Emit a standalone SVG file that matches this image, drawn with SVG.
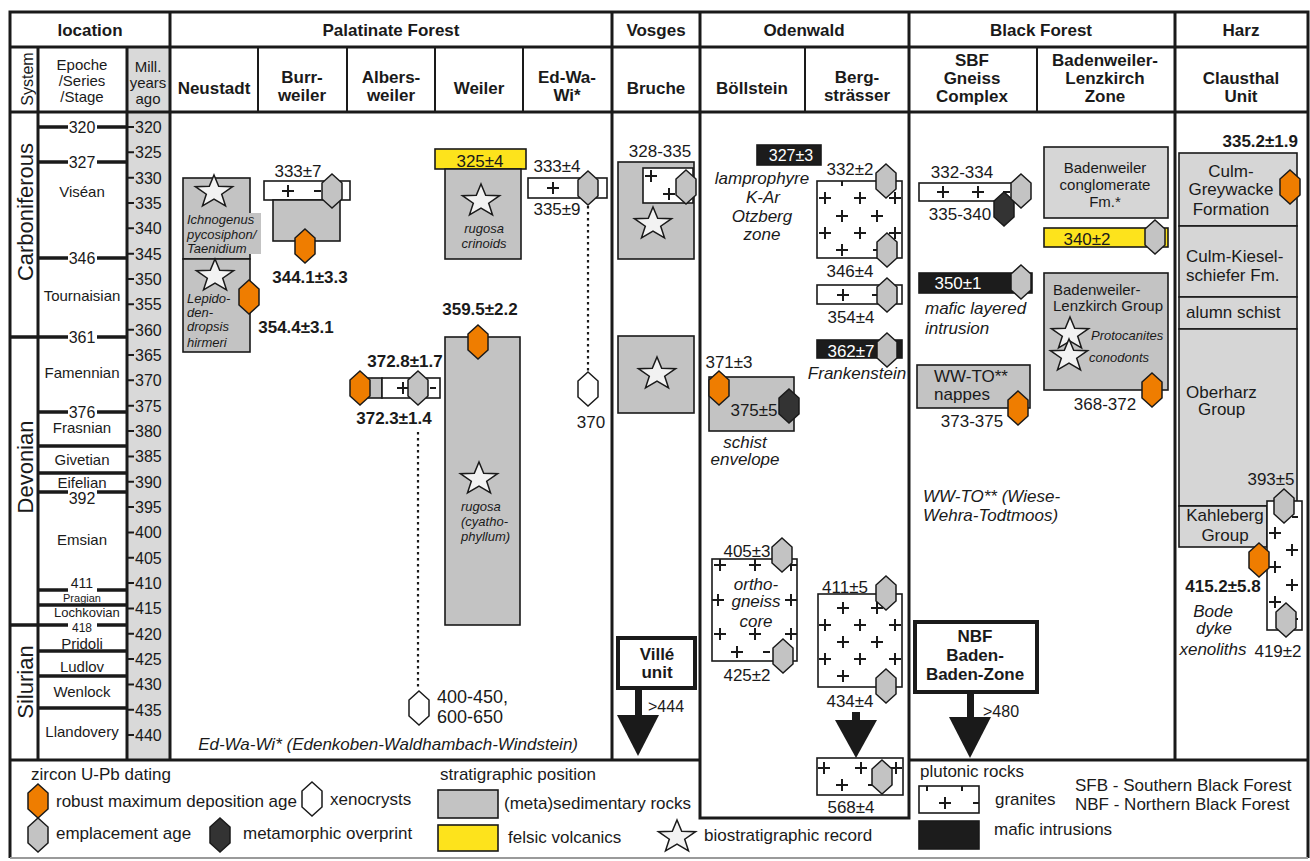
<svg xmlns="http://www.w3.org/2000/svg" width="1310" height="861" viewBox="0 0 1310 861">
<style>
text{font-family:"Liberation Sans",Arial,Helvetica,sans-serif;fill:#1a1a1a;font-size:17px}
.c{text-anchor:middle}
.e{text-anchor:end}
.bd{font-weight:bold}
.it{font-style:italic}
.f11{font-size:11px}
.f12{font-size:12px}
.f13{font-size:13px}
.f14{font-size:14px}
.f15{font-size:15px}
.f16{font-size:16px}
.f18{font-size:18px}
.f22{font-size:22px}
.wt{fill:#fff}
.ln{fill:none;stroke:#1a1a1a;stroke-width:3}
.ln2{fill:none;stroke:#1a1a1a;stroke-width:2}
.bx{stroke:#1a1a1a;stroke-width:1.6}
.sed{fill:#c3c3c3}
.lsed{fill:#d6d6d6}
.gr{fill:#fff}
.maf{fill:#1c1c1c}
.yel{fill:#fde31c}
.ho{fill:#ef7d00}
.hg{fill:#c3c3c3}
.hd{fill:#333}
.hw{fill:#fff}
.tk{fill:none;stroke:#1a1a1a;stroke-width:2}
.dot{fill:none;stroke:#1a1a1a;stroke-width:2.2;stroke-dasharray:2.5 3.5}
.ar{fill:#1a1a1a}
.ub{fill:#fff;stroke:#1a1a1a;stroke-width:4}
</style>
<defs>
<polygon id="hx" points="0,-17 10,-8 10,8 0,17 -10,8 -10,-8" stroke="#1a1a1a" stroke-width="1.5"/>
<polygon id="sr" points="0,-17 4.7,-5.7 18.6,-5.3 7.7,2.2 11.5,13.8 0,7 -11.5,13.8 -7.7,2.2 -18.6,-5.3 -4.7,-5.7" stroke="#1a1a1a" stroke-width="1.5" fill="#f2f2f2"/>
<path id="pl" d="M-6,0H6M0,-6V6" stroke="#1a1a1a" stroke-width="2" fill="none"/>
</defs>
<rect width="1310" height="861" fill="#fff"/>

<g id="location">
<rect x="128" y="48" width="41" height="711" fill="#d9d9d9"/>
<text class="c f16" transform="translate(33,79) rotate(-90)">System</text>
<text class="c f15" x="82" y="70">Epoche</text>
<text class="c f15" x="82" y="86">/Series</text>
<text class="c f15" x="82" y="102">/Stage</text>
<text class="c f15" x="148" y="72">Mill.</text>
<text class="c f15" x="148" y="88">years</text>
<text class="c f15" x="148" y="104">ago</text>
<text class="c f22" transform="translate(33,212) rotate(-90)">Carboniferous</text>
<text class="c f22" transform="translate(33,467) rotate(-90)">Devonian</text>
<text class="c f22" transform="translate(33,682) rotate(-90)">Silurian</text>
<path fill="none" stroke="#1a1a1a" stroke-width="3.5" d="M38,127H68M97,127H127M38,162H68M97,162H127M38,258H68M97,258H127M10,337H68M97,337H127M38,412H68M97,412H127M38,446H127M38,473H127M38,492H68M97,492H127M38,590H68M97,590H127M38,605H127M10,625H68M97,625H127M38,651H127M38,676H127M38,708H127"/>
<text class="c f16" x="82" y="133">320</text>
<text class="c f16" x="82" y="168">327</text>
<text class="c f16" x="82" y="264">346</text>
<text class="c f16" x="82" y="343">361</text>
<text class="c f16" x="82" y="418">376</text>
<text class="c f16" x="82" y="504">392</text>
<text class="c f14" x="82" y="588">411</text>
<text class="c f12" x="82" y="632">418</text>
<text class="c f15" x="82" y="197">Viséan</text>
<text class="c f15" x="82" y="301">Tournaisian</text>
<text class="c f15" x="82" y="378">Famennian</text>
<text class="c f15" x="82" y="433">Frasnian</text>
<text class="c f15" x="82" y="465">Givetian</text>
<text class="c f15" x="82" y="488">Eifelian</text>
<text class="c f15" x="82" y="545">Emsian</text>
<text class="c f11" x="82" y="602">Pragian</text>
<text class="f13" x="54" y="617">Lochkovian</text>
<text class="c f15" x="82" y="649">Pridoli</text>
<text class="c f15" x="82" y="672">Ludlov</text>
<text class="c f15" x="82" y="697">Wenlock</text>
<text class="c f15" x="82" y="737">Llandovery</text>
<path class="tk" d="M128,127h6M128,152.3h6M128,177.7h6M128,203h6M128,228.3h6M128,253.7h6M128,279h6M128,304.3h6M128,329.7h6M128,355h6M128,380.3h6M128,405.7h6M128,431h6M128,456.4h6M128,481.7h6M128,507h6M128,532.4h6M128,557.7h6M128,583h6M128,608.4h6M128,633.7h6M128,659h6M128,684.4h6M128,709.7h6M128,735h6"/>
<text class="f16" x="135" y="133">320</text>
<text class="f16" x="135" y="158">325</text>
<text class="f16" x="135" y="184">330</text>
<text class="f16" x="135" y="209">335</text>
<text class="f16" x="135" y="234">340</text>
<text class="f16" x="135" y="260">345</text>
<text class="f16" x="135" y="285">350</text>
<text class="f16" x="135" y="310">355</text>
<text class="f16" x="135" y="336">360</text>
<text class="f16" x="135" y="361">365</text>
<text class="f16" x="135" y="386">370</text>
<text class="f16" x="135" y="412">375</text>
<text class="f16" x="135" y="437">380</text>
<text class="f16" x="135" y="462">385</text>
<text class="f16" x="135" y="488">390</text>
<text class="f16" x="135" y="513">395</text>
<text class="f16" x="135" y="538">400</text>
<text class="f16" x="135" y="564">405</text>
<text class="f16" x="135" y="589">410</text>
<text class="f16" x="135" y="614">415</text>
<text class="f16" x="135" y="640">420</text>
<text class="f16" x="135" y="665">425</text>
<text class="f16" x="135" y="690">430</text>
<text class="f16" x="135" y="716">435</text>
<text class="f16" x="135" y="741">440</text>
</g>

<g id="frame">
<path class="ln" d="M10,858V12H1308V858M10,47H1308M10,112H1308M10,760H700M909,760H1308M170,12V760M612,12V760M700,12V818H909V12M1175,12V760M38,47V760M127,47V760"/>
<path class="ln2" d="M258,47V112M347,47V112M435,47V112M523,47V112M805,47V112M1037,47V112"/>
<path fill="none" stroke="#9a9a9a" stroke-width="2" d="M10,858H1308"/>
</g>

<g id="headers">
<text class="c bd" x="90" y="36">location</text>
<text class="c bd" x="391" y="36">Palatinate Forest</text>
<text class="c bd" x="656" y="36">Vosges</text>
<text class="c bd" x="804" y="36">Odenwald</text>
<text class="c bd" x="1041" y="36">Black Forest</text>
<text class="c bd" x="1241" y="36">Harz</text>
<text class="c bd" x="214" y="94">Neustadt</text>
<text class="c bd" x="302" y="83">Burr-</text>
<text class="c bd" x="302" y="101">weiler</text>
<text class="c bd" x="391" y="83">Albers-</text>
<text class="c bd" x="391" y="101">weiler</text>
<text class="c bd" x="479" y="94">Weiler</text>
<text class="c bd" x="567" y="83">Ed-Wa-</text>
<text class="c bd" x="567" y="101">Wi*</text>
<text class="c bd" x="656" y="94">Bruche</text>
<text class="c bd" x="752" y="94">Böllstein</text>
<text class="c bd" x="857" y="83">Berg-</text>
<text class="c bd" x="857" y="101">strässer</text>
<text class="c bd" x="972" y="66">SBF</text>
<text class="c bd" x="972" y="84">Gneiss</text>
<text class="c bd" x="972" y="102">Complex</text>
<text class="c bd" x="1105" y="66">Badenweiler-</text>
<text class="c bd" x="1105" y="84">Lenzkirch</text>
<text class="c bd" x="1105" y="102">Zone</text>
<text class="c bd" x="1241" y="84">Clausthal</text>
<text class="c bd" x="1241" y="102">Unit</text>
</g>

<g id="connectors">
<path class="dot" d="M418,432V690"/>
<path class="dot" d="M588,206V371"/>
<rect class="ar" x="635" y="688" width="7" height="28"/>
<polygon class="ar" points="617,715 659,715 638,756"/>
<rect class="ar" x="852" y="712" width="8" height="9"/>
<polygon class="ar" points="835,720 877,720 856,758"/>
<rect class="ar" x="967" y="692" width="7" height="26"/>
<polygon class="ar" points="949,717 991,717 970,758"/>
</g>

<g id="neustadt">
<rect class="bx sed" x="183" y="178" width="67" height="81"/>
<rect class="bx sed" x="183" y="259" width="67" height="93"/>
<rect class="sed" x="184" y="213" width="77" height="41"/>
<use href="#sr" x="214" y="192"/>
<use href="#sr" x="215" y="276"/>
<text class="it f13" x="187" y="224">Ichnogenus</text>
<text class="it f13" x="187" y="239">pycosiphon/</text>
<text class="it f13" x="187" y="253">Taenidium</text>
<text class="it f13" x="187" y="303">Lepido-</text>
<text class="it f13" x="187" y="317">den-</text>
<text class="it f13" x="187" y="331">dropsis</text>
<text class="it f13" x="187" y="347">hirmeri</text>
<use href="#hx" class="ho" x="249" y="297"/>
<text class="c bd" x="296" y="333">354.4±3.1</text>
</g>

<g id="burrweiler">
<text class="c" x="298" y="177">333±7</text>
<rect class="bx gr" x="264" y="181" width="86" height="19"/>
<use href="#pl" x="288" y="191"/>
<path class="tk" d="M314,191h7"/>
<rect class="bx sed" x="273" y="200" width="67" height="41"/>
<use href="#hx" class="hg" x="332" y="191"/>
<use href="#hx" class="ho" x="305" y="246"/>
<text class="c bd" x="310" y="283">344.1±3.3</text>
</g>

<g id="albersweiler">
<text class="c bd" x="405" y="367">372.8±1.7</text>
<rect class="bx sed" x="366" y="378" width="16" height="20"/>
<rect class="bx gr" x="382" y="378" width="58" height="20"/>
<use href="#pl" x="403" y="388"/>
<path class="tk" d="M430,388h6"/>
<use href="#hx" class="ho" x="360" y="388"/>
<use href="#hx" class="hg" x="418" y="388"/>
<text class="c bd" x="394" y="424">372.3±1.4</text>
<use href="#hx" class="hw" x="419" y="708"/>
<text class="f18" x="437" y="703">400-450,</text>
<text class="f18" x="437" y="723">600-650</text>
<text class="it e" x="578" y="750">Ed-Wa-Wi* (Edenkoben-Waldhambach-Windstein)</text>
</g>

<g id="weiler">
<rect class="bx yel" x="435" y="149" width="91" height="20"/>
<text class="c" x="480" y="167">325±4</text>
<rect class="bx sed" x="445" y="169" width="76" height="90"/>
<use href="#sr" x="481" y="201"/>
<text class="c it f13" x="484" y="233">rugosa</text>
<text class="c it f13" x="484" y="248">crinoids</text>
<rect class="bx sed" x="445" y="337" width="75" height="288"/>
<use href="#sr" x="479" y="479"/>
<text class="it f13" x="461" y="511">rugosa</text>
<text class="it f13" x="461" y="526">(cyatho-</text>
<text class="it f13" x="461" y="541">phyllum)</text>
<use href="#hx" class="ho" x="478" y="342"/>
<text class="c bd" x="480" y="315">359.5±2.2</text>
</g>

<g id="edwawi">
<text class="c" x="557" y="172">333±4</text>
<rect class="bx gr" x="528" y="178" width="79" height="20"/>
<use href="#pl" x="553" y="188"/>
<use href="#hx" class="hg" x="588" y="188"/>
<text class="c" x="557" y="215">335±9</text>
<use href="#hx" class="hw" x="588" y="389"/>
<text class="c" x="591" y="428">370</text>
</g>

<g id="bruche">
<text class="c" x="660" y="157">328-335</text>
<rect class="bx sed" x="618" y="162" width="76" height="97"/>
<rect class="bx gr" x="643" y="168" width="50" height="35"/>
<use href="#pl" x="651" y="176"/>
<use href="#pl" x="669" y="194"/>
<use href="#hx" class="hg" x="686" y="187"/>
<use href="#sr" x="653" y="224"/>
<rect class="bx sed" x="618" y="336" width="76" height="77"/>
<use href="#sr" x="657" y="374"/>
</g>

<g id="ville">
<rect class="ub" x="618" y="638" width="77" height="50"/>
<text class="c bd" x="657" y="660">Villé</text>
<text class="c bd" x="657" y="678">unit</text>
<text class="f16" x="648" y="712">&gt;444</text>
</g>

<g id="boellstein">
<rect class="bx maf" x="757" y="145" width="64" height="20"/>
<text class="c f16 wt" x="791" y="161">327±3</text>
<text class="c it" x="762" y="184">lamprophyre</text>
<text class="c it" x="763" y="203">K-Ar</text>
<text class="c it" x="762" y="222">Otzberg</text>
<text class="c it" x="762" y="240">zone</text>
<text class="c" x="729" y="368">371±3</text>
<rect class="bx sed" x="709" y="377" width="85" height="54"/>
<use href="#hx" class="ho" x="719" y="388"/>
<use href="#hx" class="hd" x="789" y="406"/>
<text class="c" x="754" y="416">375±5</text>
<text class="c it" x="745" y="448">schist</text>
<text class="c it" x="745" y="465">envelope</text>
<rect class="bx gr" x="712" y="559" width="85" height="102"/>
<use href="#pl" x="720" y="565"/><use href="#pl" x="755" y="565"/><use href="#pl" x="791" y="565"/>
<use href="#pl" x="718" y="600"/><use href="#pl" x="791" y="600"/>
<use href="#pl" x="720" y="634"/><use href="#pl" x="755" y="634"/><use href="#pl" x="791" y="634"/>
<use href="#pl" x="737" y="652"/>
<path class="tk" d="M763,652h7"/>
<text class="c" x="747" y="557">405±3</text>
<use href="#hx" class="hg" x="782" y="555"/>
<use href="#hx" class="hg" x="783" y="656"/>
<text class="c it" x="756" y="590">ortho-</text>
<text class="c it" x="756" y="607">gneiss</text>
<text class="c it" x="756" y="627">core</text>
<text class="c" x="747" y="681">425±2</text>
</g>

<g id="bergstrasser">
<text class="c" x="850" y="175">332±2</text>
<rect class="bx gr" x="817" y="181" width="85" height="77"/>
<path class="tk" d="M842,181v5M877,181v5M873,250h5"/>
<use href="#pl" x="825" y="198"/><use href="#pl" x="860" y="198"/><use href="#pl" x="895" y="198"/>
<use href="#pl" x="842" y="216"/><use href="#pl" x="877" y="216"/>
<use href="#pl" x="825" y="233"/><use href="#pl" x="860" y="233"/><use href="#pl" x="895" y="233"/>
<use href="#pl" x="842" y="250"/>
<use href="#hx" class="hg" x="886" y="181"/>
<use href="#hx" class="hg" x="887" y="250"/>
<text class="c" x="850" y="277">346±4</text>
<rect class="bx gr" x="817" y="285" width="85" height="19"/>
<use href="#pl" x="843" y="295"/>
<path class="tk" d="M872,295h6"/>
<use href="#hx" class="hg" x="887" y="295"/>
<text class="c" x="851" y="323">354±4</text>
<rect class="bx maf" x="817" y="340" width="85" height="18"/>
<text class="c wt" x="851" y="357">362±7</text>
<use href="#hx" class="hg" x="887" y="350"/>
<text class="c it" x="857" y="379">Frankenstein</text>
<text class="c" x="845" y="593">411±5</text>
<rect class="bx gr" x="818" y="594" width="84" height="93"/>
<use href="#pl" x="843" y="608"/><use href="#pl" x="877" y="608"/>
<use href="#pl" x="825" y="625"/><use href="#pl" x="860" y="625"/><use href="#pl" x="895" y="625"/>
<use href="#pl" x="843" y="642"/><use href="#pl" x="877" y="642"/>
<use href="#pl" x="825" y="659"/><use href="#pl" x="860" y="659"/><use href="#pl" x="895" y="659"/>
<use href="#pl" x="843" y="676"/>
<use href="#hx" class="hg" x="886" y="593"/>
<use href="#hx" class="hg" x="886" y="686"/>
<text class="c" x="850" y="707">434±4</text>
</g>

<g id="odenwald-basement">
<rect class="bx gr" x="817" y="758" width="86" height="37"/>
<use href="#pl" x="824" y="768"/><use href="#pl" x="861" y="768"/><use href="#pl" x="896" y="768"/>
<use href="#pl" x="842" y="785"/>
<path class="tk" d="M868,785h6"/>
<use href="#hx" class="hg" x="882" y="777"/>
<text class="c" x="851" y="813">568±4</text>
</g>

<g id="sbf">
<text class="c" x="962" y="178">332-334</text>
<rect class="bx gr" x="919" y="183" width="94" height="18"/>
<use href="#pl" x="943" y="192"/><use href="#pl" x="978" y="192"/>
<path class="tk" d="M1003,192h7"/>
<use href="#hx" class="hd" x="1004" y="209"/>
<use href="#hx" class="hg" x="1021" y="191"/>
<text class="c" x="960" y="220">335-340</text>
<rect class="bx maf" x="919" y="273" width="113" height="20"/>
<text class="c wt" x="958" y="289">350±1</text>
<use href="#hx" class="hg" x="1021" y="282"/>
<text class="it" x="925" y="314">mafic layered</text>
<text class="it" x="925" y="334">intrusion</text>
<rect class="bx sed" x="917" y="365" width="113" height="43"/>
<text class="c" x="971" y="382">WW-TO**</text>
<text class="c" x="962" y="400">nappes</text>
<use href="#hx" class="ho" x="1018" y="408"/>
<text class="c" x="972" y="427">373-375</text>
<text class="it" x="923" y="502">WW-TO** (Wiese-</text>
<text class="it" x="923" y="521">Wehra-Todtmoos)</text>
</g>

<g id="nbf">
<rect class="ub" x="915" y="622" width="122" height="70"/>
<text class="c bd" x="975" y="642">NBF</text>
<text class="c bd" x="975" y="661">Baden-</text>
<text class="c bd" x="975" y="680">Baden-Zone</text>
<text class="f16" x="983" y="717">&gt;480</text>
</g>

<g id="badenweiler">
<rect class="bx lsed" x="1044" y="147" width="124" height="71"/>
<text class="c f15" x="1105" y="173">Badenweiler</text>
<text class="c f15" x="1105" y="190">conglomerate</text>
<text class="c f15" x="1105" y="207">Fm.*</text>
<rect class="bx yel" x="1044" y="228" width="124" height="19"/>
<text class="c" x="1087" y="245">340±2</text>
<use href="#hx" class="hg" x="1155" y="237"/>
<rect class="bx sed" x="1044" y="273" width="124" height="117"/>
<text class="f15" x="1053" y="295">Badenweiler-</text>
<text class="f15" x="1053" y="311">Lenzkirch Group</text>
<use href="#sr" x="1070" y="334"/>
<use href="#sr" x="1069" y="356"/>
<text class="it f13" x="1091" y="340">Protocanites</text>
<text class="it f13" x="1089" y="362">conodonts</text>
<use href="#hx" class="ho" x="1152" y="390"/>
<text class="c" x="1105" y="410">368-372</text>
</g>

<g id="harz">
<text class="e bd" x="1298" y="147">335.2±1.9</text>
<rect class="bx lsed" x="1179" y="153" width="118" height="73"/>
<rect class="bx lsed" x="1179" y="226" width="118" height="71"/>
<rect class="bx lsed" x="1179" y="297" width="118" height="32"/>
<rect class="bx lsed" x="1179" y="329" width="118" height="177"/>
<rect class="bx lsed" x="1179" y="506" width="88" height="41"/>
<text class="c" x="1231" y="177">Culm-</text>
<text class="c" x="1231" y="195">Greywacke</text>
<text class="c" x="1231" y="215">Formation</text>
<use href="#hx" class="ho" x="1290" y="187"/>
<text x="1186" y="262">Culm-Kiesel-</text>
<text x="1186" y="281">schiefer Fm.</text>
<text x="1186" y="318">alumn schist</text>
<text x="1186" y="398">Oberharz</text>
<text x="1198" y="415">Group</text>
<text class="c" x="1271" y="485">393±5</text>
<text class="c" x="1225" y="521">Kahleberg</text>
<text class="c" x="1225" y="541">Group</text>
<rect class="bx gr" x="1267" y="501" width="35" height="129"/>
<use href="#pl" x="1275" y="533"/><use href="#pl" x="1292" y="550"/>
<use href="#pl" x="1275" y="567"/><use href="#pl" x="1292" y="585"/>
<use href="#pl" x="1275" y="602"/>
<path class="tk" d="M1292,517h6M1292,619h6"/>
<use href="#hx" class="hg" x="1284" y="506"/>
<use href="#hx" class="ho" x="1259" y="560"/>
<use href="#hx" class="hg" x="1286" y="620"/>
<text class="c bd" x="1223" y="592">415.2±5.8</text>
<text class="c it" x="1213" y="617">Bode</text>
<text class="c it" x="1214" y="634">dyke</text>
<text class="c it" x="1213" y="655">xenoliths</text>
<text class="c" x="1278" y="657">419±2</text>
</g>

<g id="legend">
<text x="31" y="780">zircon U-Pb dating</text>
<use href="#hx" class="ho" x="38" y="801"/>
<text x="56" y="807">robust maximum deposition age</text>
<use href="#hx" class="hw" x="312" y="799"/>
<text x="330" y="805">xenocrysts</text>
<use href="#hx" class="hg" x="38" y="835"/>
<text x="56" y="839">emplacement age</text>
<use href="#hx" class="hd" x="220" y="835"/>
<text x="243" y="839">metamorphic overprint</text>
<text x="440" y="780">stratigraphic position</text>
<rect class="bx sed" x="438" y="790" width="60" height="28"/>
<text x="504" y="809">(meta)sedimentary rocks</text>
<rect class="bx yel" x="438" y="825" width="60" height="26"/>
<text x="508" y="843">felsic volcanics</text>
<use href="#sr" x="677" y="837"/>
<text x="704" y="841">biostratigraphic record</text>
<text x="920" y="777">plutonic rocks</text>
<rect class="bx gr" x="919" y="786" width="60" height="27"/>
<use href="#pl" x="945" y="803"/>
<path class="tk" d="M927,786v5M962,786v5M973,803h6"/>
<text x="995" y="805">granites</text>
<rect class="bx maf" x="919" y="821" width="60" height="28"/>
<text x="994" y="835">mafic intrusions</text>
<text x="1075" y="791">SFB - Southern Black Forest</text>
<text x="1075" y="810">NBF - Northern Black Forest</text>
</g>
</svg>
